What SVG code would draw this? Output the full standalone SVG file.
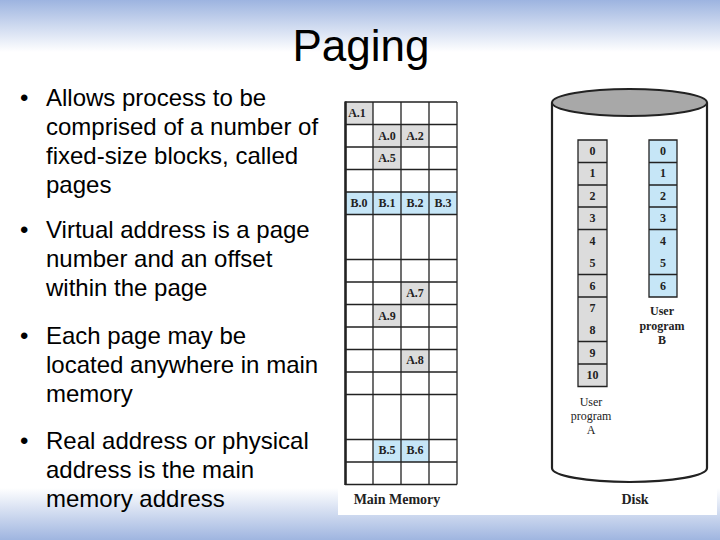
<svg xmlns="http://www.w3.org/2000/svg" width="720" height="540" viewBox="0 0 720 540">
<defs>
<linearGradient id="gTop" x1="0" y1="0" x2="0" y2="1">
<stop offset="0" stop-color="#9db4e0"/><stop offset="1" stop-color="#ffffff"/>
</linearGradient>
<linearGradient id="gBot" x1="0" y1="0" x2="0" y2="1">
<stop offset="0" stop-color="#ffffff"/><stop offset="1" stop-color="#9fb5e0"/>
</linearGradient>
</defs>
<style>
.bul{font-family:"Liberation Sans",Arial,sans-serif;font-size:24px;fill:#000}
.ttl{font-family:"Liberation Sans",Arial,sans-serif;font-size:44px;fill:#000}
.cl{font-family:"Liberation Serif","Times New Roman",serif;font-size:12px;font-weight:bold;fill:#222;text-anchor:middle}
.nl{font-family:"Liberation Serif","Times New Roman",serif;font-size:12px;fill:#222;text-anchor:middle}
.cap{font-family:"Liberation Serif","Times New Roman",serif;font-size:14px;font-weight:bold;fill:#222;text-anchor:middle}
.grid{stroke:#222;stroke-width:1.3;fill:none}
.a{fill:#dcdcdc}
.b{fill:#c6e6f7}
</style>
<rect width="720" height="540" fill="#ffffff"/>
<rect width="720" height="52" fill="url(#gTop)"/>
<rect y="488" width="720" height="52" fill="url(#gBot)"/>
<rect x="338" y="86" width="379" height="429" fill="#ffffff"/>
<g id="title"><text class="ttl" x="361" y="61" text-anchor="middle">Paging</text></g>
<g id="bullets">
<text class="bul" x="20" y="106">•</text>
<text class="bul" x="46" y="106">Allows process to be</text>
<text class="bul" x="46" y="135">comprised of a number of</text>
<text class="bul" x="46" y="164">fixed-size blocks, called</text>
<text class="bul" x="46" y="193">pages</text>
<text class="bul" x="20" y="238">•</text>
<text class="bul" x="46" y="238">Virtual address is a page</text>
<text class="bul" x="46" y="267">number and an offset</text>
<text class="bul" x="46" y="296">within the page</text>
<text class="bul" x="20" y="344">•</text>
<text class="bul" x="46" y="344">Each page may be</text>
<text class="bul" x="46" y="373">located anywhere in main</text>
<text class="bul" x="46" y="402">memory</text>
<text class="bul" x="20" y="449">•</text>
<text class="bul" x="46" y="449">Real address or physical</text>
<text class="bul" x="46" y="478">address is the main</text>
<text class="bul" x="46" y="507">memory address</text>
</g>
<g id="main-memory">
<rect class="a" x="345" y="102" width="28" height="22.5"/>
<rect class="a" x="373" y="124.5" width="28" height="22.5"/>
<rect class="a" x="401" y="124.5" width="28" height="22.5"/>
<rect class="a" x="373" y="147" width="28" height="22.5"/>
<rect class="b" x="345" y="192" width="112" height="22.5"/>
<rect class="a" x="401" y="282" width="28" height="22.5"/>
<rect class="a" x="373" y="304.5" width="28" height="22.5"/>
<rect class="a" x="401" y="349.5" width="28" height="22.5"/>
<rect class="b" x="373" y="439.5" width="56" height="22.5"/>
<path class="grid" d="M373 102V484.5M401 102V484.5M429 102V484.5M457 102V484.5M345 484.5H457M345 102H457M345 124.5H457M345 147H457M345 169.5H457M345 192H457M345 214.5H457M345 259.5H457M345 282H457M345 304.5H457M345 327H457M345 349.5H457M345 372H457M345 394.5H457M345 439.5H457M345 462H457"/>
<path d="M345.5 101.5V485" stroke="#222" stroke-width="2.6"/>
<text class="cl" x="357" y="117">A.1</text>
<text class="cl" x="387" y="140">A.0</text>
<text class="cl" x="415" y="140">A.2</text>
<text class="cl" x="387" y="162">A.5</text>
<text class="cl" x="359" y="207">B.0</text>
<text class="cl" x="387" y="207">B.1</text>
<text class="cl" x="415" y="207">B.2</text>
<text class="cl" x="443" y="207">B.3</text>
<text class="cl" x="415" y="297">A.7</text>
<text class="cl" x="387" y="320">A.9</text>
<text class="cl" x="415" y="364">A.8</text>
<text class="cl" x="387" y="454">B.5</text>
<text class="cl" x="415" y="454">B.6</text>
<text class="cap" x="397" y="504">Main Memory</text>
</g>
<g id="disk">
<path d="M552 102.5V468A77.5 14 0 0 0 707 468V102.5" fill="#ffffff" stroke="#222" stroke-width="2.2"/>
<ellipse cx="629.5" cy="102.5" rx="77.5" ry="13.5" fill="#a8a8a8" stroke="#222" stroke-width="2"/>
<text class="cap" x="635" y="504">Disk</text>
</g>
<g id="program-a">
<rect class="a" x="578" y="140" width="29" height="246.5"/>
<path class="grid" d="M578 140H607V386.5H578ZM578 162.5H607M578 185H607M578 207H607M578 229.5H607M578 274.5H607M578 297H607M578 341.5H607M578 364H607"/>
<text class="cl" x="592.5" y="155">0</text>
<text class="cl" x="592.5" y="177">1</text>
<text class="cl" x="592.5" y="200">2</text>
<text class="cl" x="592.5" y="222">3</text>
<text class="cl" x="592.5" y="245">4</text>
<text class="cl" x="592.5" y="267">5</text>
<text class="cl" x="592.5" y="290">6</text>
<text class="cl" x="592.5" y="312">7</text>
<text class="cl" x="592.5" y="334">8</text>
<text class="cl" x="592.5" y="357">9</text>
<text class="cl" x="592.5" y="379">10</text>
<text class="nl" x="591" y="406">User</text>
<text class="nl" x="591" y="420">program</text>
<text class="nl" x="591" y="434">A</text>
</g>
<g id="program-b">
<rect class="b" x="649" y="140" width="28" height="157"/>
<path class="grid" d="M649 140H677V297H649ZM649 162.5H677M649 185H677M649 207H677M649 229.5H677M649 274.5H677"/>
<text class="cl" x="663" y="155">0</text>
<text class="cl" x="663" y="177">1</text>
<text class="cl" x="663" y="200">2</text>
<text class="cl" x="663" y="222">3</text>
<text class="cl" x="663" y="245">4</text>
<text class="cl" x="663" y="267">5</text>
<text class="cl" x="663" y="290">6</text>
<text class="cl" x="662" y="315">User</text>
<text class="cl" x="662" y="330">program</text>
<text class="cl" x="662" y="344">B</text>
</g>
</svg>
